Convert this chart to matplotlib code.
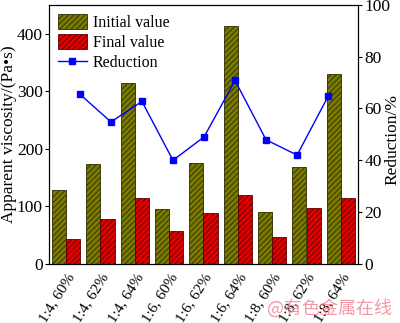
import numpy as np
import matplotlib
matplotlib.use('Agg')
import matplotlib.pyplot as plt

labels = ['1:4, 60%', '1:4, 62%', '1:4, 64%', '1:6, 60%', '1:6, 62%',
          '1:6, 64%', '1:8, 60%', '1:8, 62%', '1:8, 64%']
initial = [128, 173, 315, 96, 175, 413, 90, 168, 330]
final = [44, 78, 115, 57, 89, 120, 46, 97, 115]
reduction = [65.5, 54.8, 62.7, 40, 49, 70.8, 47.9, 42, 64.7]

plt.rcParams['font.family'] = ['Liberation Serif', 'Noto Sans CJK SC']
plt.rcParams['hatch.linewidth'] = 0.6
plt.rcParams['font.size'] = 12

fig = plt.figure(figsize=(4, 3.23), dpi=100)
ax = fig.add_axes([0.1225, 0.183, 0.7725, 0.802])
x = np.arange(len(labels))
w = 0.41
b1 = ax.bar(x - w / 2, initial, w, color='#7a7a00', edgecolor='#2a2a00',
            hatch='//////', linewidth=0.6, label='Initial value')
b2 = ax.bar(x + w / 2, final, w, color='#e00000', edgecolor='#5a0000',
            hatch='//////', linewidth=0.6, label='Final value')
ax.set_xlim(-0.5, len(labels) - 0.5)
ax.set_ylim(0, 450)
ax.set_yticks([0, 100, 200, 300, 400])
ax.set_xticks(x)
ax.set_xticklabels(labels, rotation=58, ha='right', rotation_mode='anchor',
                   fontsize=11)
ax.tick_params(axis='x', length=0, pad=5)
ax.tick_params(axis='y', direction='out', length=3, pad=1.5, labelsize=12.5)
ax.set_ylabel('Apparent viscosity/(Pa•s)', fontsize=12.5)
ax.yaxis.set_label_coords(-0.104, 0.5)

ax2 = ax.twinx()
# line markers do not sit on group centres in the original
xl = np.linspace(0.4, 7.63, len(reduction))
l1, = ax2.plot(xl, reduction, color='#0000ff', marker='s', markersize=5,
               linewidth=1.0, label='Reduction')
ax2.set_ylim(0, 100)
ax2.set_yticks([0, 20, 40, 60, 80, 100])
ax2.tick_params(axis='y', direction='out', length=3, pad=1.5, labelsize=12.5)
ax2.set_ylabel('Reduction/%', fontsize=12.5)
ax2.yaxis.set_label_coords(1.087, 0.48)

leg = ax.legend([b1, b2, l1], ['Initial value', 'Final value', 'Reduction'],
                loc='upper left', frameon=False, handlelength=1.8,
                handleheight=1.1, borderaxespad=0.15, labelspacing=0.2,
                handletextpad=0.4, fontsize=11.5)

fig.text(0.98, 0.045, '@有色金属在线', color='#f08090', ha='right',
         va='center', fontsize=13, family=['Noto Sans CJK SC'], alpha=0.8)

fig.savefig('out.png', dpi=100)
